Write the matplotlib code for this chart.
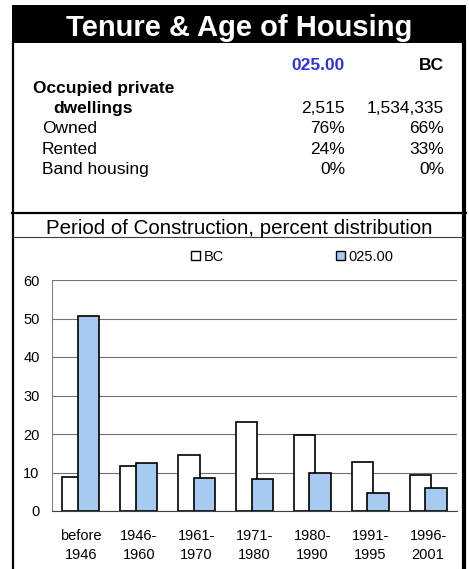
import matplotlib
matplotlib.use('Agg')
import matplotlib.pyplot as plt
from matplotlib.patches import Rectangle, Patch
from matplotlib.lines import Line2D
import numpy as np

plt.rcParams['font.family'] = ['Liberation Sans', 'DejaVu Sans']

# dados da tabela
cab_area = '025.00'
cab_bc = 'BC'
linhas = ['Owned', 'Rented', 'Band housing']
total_area = '2,515'
total_bc = '1,534,335'
vals_area = ['76%', '24%', '0%']
vals_bc = ['66%', '33%', '0%']

# dados do grafico
periodos = ['before\n1946', '1946-\n1960', '1961-\n1970', '1971-\n1980',
            '1980-\n1990', '1991-\n1995', '1996-\n2001']
bc = [8.9, 11.7, 14.5, 23.0, 19.7, 12.6, 9.3]
area = [50.6, 12.5, 8.7, 8.3, 9.8, 4.6, 6.0]

W, H = 469, 569
fig = plt.figure(figsize=(W / 100, H / 100), dpi=100)


def fx(x):
    return x / W


def fy(y):
    return 1 - y / H


# moldura e barra de titulo
fig.patches.append(Rectangle((fx(12), fy(43)), fx(454), 38 / H, transform=fig.transFigure,
                             facecolor='black', edgecolor='none'))
fig.lines.append(Line2D([fx(13), fx(13)], [fy(43), 0], transform=fig.transFigure, color='black', lw=1.6))
fig.lines.append(Line2D([fx(464), fx(464)], [fy(43), 0], transform=fig.transFigure, color='black', lw=3))
fig.lines.append(Line2D([fx(12), fx(466)], [fy(212.5), fy(212.5)], transform=fig.transFigure, color='black', lw=1.6))
fig.lines.append(Line2D([fx(13), fx(463)], [fy(237), fy(237)], transform=fig.transFigure, color='#404040', lw=0.8))

fig.text(fx(239), fy(36), 'Tenure & Age of Housing', color='white', fontsize=21,
         fontweight='bold', ha='center', va='baseline')

# tabela
fs = 12.5
fig.text(fx(345), fy(70), cab_area, color='#3333CC', fontsize=fs, fontweight='bold', ha='right', va='baseline')
fig.text(fx(444), fy(70), cab_bc, color='black', fontsize=fs, fontweight='bold', ha='right', va='baseline')
fig.text(fx(33), fy(93), 'Occupied private', fontsize=fs, fontweight='bold', va='baseline')
fig.text(fx(53), fy(113), 'dwellings', fontsize=fs, fontweight='bold', va='baseline')
fig.text(fx(345), fy(113), total_area, fontsize=fs, ha='right', va='baseline')
fig.text(fx(444), fy(113), total_bc, fontsize=fs, ha='right', va='baseline')
for k, nome in enumerate(linhas):
    yb = 133 + 20.5 * k
    fig.text(fx(42), fy(yb), nome, fontsize=fs, va='baseline')
    fig.text(fx(345), fy(yb), vals_area[k], fontsize=fs, ha='right', va='baseline')
    fig.text(fx(444), fy(yb), vals_bc[k], fontsize=fs, ha='right', va='baseline')

fig.text(fx(239.5), fy(233.5), 'Period of Construction, percent distribution', fontsize=14.8,
         ha='center', va='baseline')

# grafico de barras
ax = fig.add_axes([fx(52), fy(511), fx(405), 231 / H])
x = np.arange(len(periodos))
larg = 0.37
ax.bar(x - 0.135, bc, larg, color='white', edgecolor='black', linewidth=1.2, zorder=2)
ax.bar(x + 0.135, area, larg, color='#A6CAF0', edgecolor='black', linewidth=1.2, zorder=3)

ax.set_xlim(-0.5, len(periodos) - 0.5)
ax.set_ylim(0, 60)
ax.set_yticks(np.arange(0, 61, 10))
ax.set_xticks(x)
ax.set_xticklabels(periodos, fontsize=10.5, linespacing=1.45)
ax.tick_params(axis='y', length=0, pad=9, labelsize=10.5)
ax.tick_params(axis='x', length=0, pad=13)
ax.grid(axis='y', color='#707070', linewidth=0.8, zorder=0)
ax.set_axisbelow(True)
for s in ['top', 'right']:
    ax.spines[s].set_visible(False)
ax.spines['left'].set_color('#808080')
ax.spines['bottom'].set_color('#404040')
ax.spines['left'].set_linewidth(0.8)
ax.spines['bottom'].set_linewidth(0.8)

handles = [Patch(facecolor='white', edgecolor='black', linewidth=1.0, label=cab_bc),
           Patch(facecolor='#A6CAF0', edgecolor='black', linewidth=1.0, label=cab_area)]
fig.legend(handles=handles, loc='center left', bbox_to_anchor=(fx(191), fy(257)), ncol=2,
           frameon=False, fontsize=10.5, handlelength=0.6, handleheight=0.6,
           handletextpad=0.25, columnspacing=7.7, borderpad=0, borderaxespad=0)

fig.savefig('out.png', dpi=100)
